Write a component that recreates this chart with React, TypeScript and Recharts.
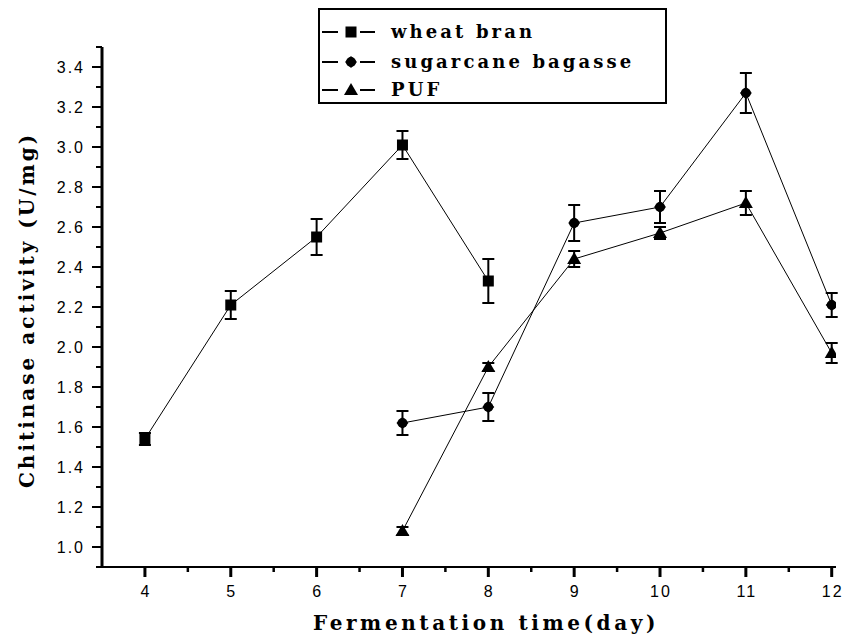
import { LineChart, Line, XAxis, YAxis, ErrorBar, Legend } from 'recharts';

// values
const days = [4, 5, 6, 7, 8, 9, 10, 11, 12];
const wheatBran = [1.54, 2.21, 2.55, 3.01, 2.33, null, null, null, null];
const wheatBranErr = [0.03, 0.07, 0.09, 0.07, 0.11, null, null, null, null];
const sugarcane = [null, null, null, 1.62, 1.7, 2.62, 2.7, 3.27, 2.21];
const sugarcaneErr = [null, null, null, 0.06, 0.07, 0.09, 0.08, 0.1, 0.06];
const puf = [null, null, null, 1.08, 1.9, 2.44, 2.57, 2.72, 1.97];
const pufErr = [null, null, null, 0.02, 0.02, 0.04, 0.03, 0.06, 0.05];

const xTicks = [4, 4.5, 5, 5.5, 6, 6.5, 7, 7.5, 8, 8.5, 9, 9.5, 10, 10.5, 11, 11.5, 12];
const yTicks = [
    0.9, 1.0, 1.1, 1.2, 1.3, 1.4, 1.5, 1.6, 1.7, 1.8, 1.9, 2.0, 2.1, 2.2,
    2.3, 2.4, 2.5, 2.6, 2.7, 2.8, 2.9, 3.0, 3.1, 3.2, 3.3, 3.4, 3.5
];

const data = days.map((day, i) => ({
    day,
    wheatBran: wheatBran[i],
    wheatBranErr: wheatBranErr[i] ?? undefined,
    sugarcane: sugarcane[i],
    sugarcaneErr: sugarcaneErr[i] ?? undefined,
    puf: puf[i],
    pufErr: pufErr[i] ?? undefined
}));

const TITLE_FONT = '"DejaVu Serif", serif';
const TICK_FONT = '"Liberation Sans", Arial, sans-serif';

const Square = ({ cx, cy }: any) => (
    <rect x={cx - 5.5} y={cy - 5.5} width={11} height={11} fill="#000" />
);
const Diamond = ({ cx, cy }: any) => (
    <g>
        <circle cx={cx} cy={cy} r={5} fill="#000" />
        <path d={`M${cx},${cy - 6}L${cx + 6},${cy}L${cx},${cy + 6}L${cx - 6},${cy}Z`} fill="#000" />
    </g>
);
const Triangle = ({ cx, cy }: any) => (
    <path d={`M${cx},${cy - 7}L${cx + 7},${cy + 5}L${cx - 7},${cy + 5}Z`} fill="#000" />
);

const makeDot = (Shape: any) => (props: any) => {
    const { cx, cy, value, index } = props;
    if (value == null || cy == null || cx == null) return <g key={index} />;
    return <Shape key={index} cx={cx} cy={cy} />;
};

const XTick = ({ x, y, payload }: any) => {
    const major = Number.isInteger(payload.value);
    return (
        <g>
            <line x1={x} x2={x} y1={y} y2={y + (major ? 10 : 5)} stroke="#000" strokeWidth={major ? 3 : 2.5} />
            {major && (
                <text x={x + 1} y={y + 30} textAnchor="middle" fontFamily={TICK_FONT} fontSize={16} letterSpacing={2} fill="#000">
                    {payload.value}
                </text>
            )}
        </g>
    );
};

const YTick = ({ x, y, payload }: any) => {
    const major = Math.round(payload.value * 10) % 2 === 0;
    return (
        <g>
            <line x1={x} x2={x - (major ? 10 : 6)} y1={y} y2={y} stroke="#000" strokeWidth={2} />
            {major && (
                <text x={x - 17} y={y + 6} textAnchor="end" fontFamily={TICK_FONT} fontSize={16} letterSpacing={2} fill="#000">
                    {payload.value.toFixed(1)}
                </text>
            )}
        </g>
    );
};

const legendRows = [
    { key: 'wheatBran', name: 'wheat bran', Shape: Square },
    { key: 'sugarcane', name: 'sugarcane bagasse', Shape: Diamond },
    { key: 'puf', name: 'PUF', Shape: Triangle }
];

const renderLegend = () => (
    <div style={{ width: 345, height: 92, border: '2px solid #000', background: '#fff' }}>
        <svg width={345} height={92}>
            {legendRows.map((r, i) => {
                const cy = [22, 52, 80][i];
                return (
                    <g key={r.key}>
                        <line x1={2} x2={18} y1={cy} y2={cy} stroke="#000" strokeWidth={2} />
                        <r.Shape cx={31} cy={cy} />
                        <line x1={40} x2={55} y1={cy} y2={cy} stroke="#000" strokeWidth={2} />
                        <text x={71} y={cy + 6} fontFamily={TITLE_FONT} fontWeight="bold" fontSize={18} letterSpacing={3.1} fill="#000">
                            {r.name}
                        </text>
                    </g>
                );
            })}
        </svg>
    </div>
);

export default function App() {
    return (
        <div style={{ width: 851, height: 637, background: '#fff' }}>
            <style>{'body{margin:0}'}</style>
            <LineChart
                width={851}
                height={637}
                data={data}
                margin={{ top: 47, right: 15, left: 42, bottom: 0 }}
            >
                <XAxis
                    type="number"
                    dataKey="day"
                    domain={[3.5, 12.05]}
                    ticks={xTicks}
                    interval={0}
                    allowDataOverflow
                    height={70}
                    tickSize={0}
                    tickMargin={0}
                    tickLine={false}
                    tick={<XTick />}
                    axisLine={{ stroke: '#000', strokeWidth: 2 }}
                    label={{
                        content: ({ viewBox }: any) => (
                            <text
                                x={viewBox.x + viewBox.width / 2 + 17}
                                y={630}
                                textAnchor="middle"
                                fontFamily={TITLE_FONT}
                                fontWeight="bold"
                                fontSize={20}
                                letterSpacing={3.6}
                                fill="#000"
                            >
                                Fermentation time(day)
                            </text>
                        )
                    }}
                />
                <YAxis
                    type="number"
                    domain={[0.9, 3.5]}
                    ticks={yTicks}
                    interval={0}
                    allowDataOverflow
                    width={60}
                    tickSize={0}
                    tickMargin={0}
                    tickLine={false}
                    tick={<YTick />}
                    axisLine={{ stroke: '#000', strokeWidth: 3 }}
                    label={{
                        content: ({ viewBox }: any) => {
                            const cy = viewBox.y + viewBox.height / 2 + 3;
                            return (
                                <text
                                    x={34}
                                    y={cy}
                                    transform={`rotate(-90 34 ${cy})`}
                                    textAnchor="middle"
                                    fontFamily={TITLE_FONT}
                                    fontWeight="bold"
                                    fontSize={20}
                                    letterSpacing={3}
                                    fill="#000"
                                >
                                    Chitinase activity (U/mg)
                                </text>
                            );
                        }
                    }}
                />
                <Legend
                    layout="vertical"
                    align="center"
                    verticalAlign="middle"
                    content={renderLegend}
                    wrapperStyle={{ left: 318, top: 8, width: 349, height: 96 }}
                />
                <Line
                    type="linear"
                    dataKey="wheatBran"
                    name="wheat bran"
                    stroke="#000"
                    strokeWidth={1}
                    dot={makeDot(Square)}
                    activeDot={false}
                    isAnimationActive={false}
                >
                    <ErrorBar dataKey="wheatBranErr" width={6} stroke="#000" strokeWidth={2} direction="y" />
                </Line>
                <Line
                    type="linear"
                    dataKey="sugarcane"
                    name="sugarcane bagasse"
                    stroke="#000"
                    strokeWidth={1}
                    dot={makeDot(Diamond)}
                    activeDot={false}
                    isAnimationActive={false}
                >
                    <ErrorBar dataKey="sugarcaneErr" width={6} stroke="#000" strokeWidth={2} direction="y" />
                </Line>
                <Line
                    type="linear"
                    dataKey="puf"
                    name="PUF"
                    stroke="#000"
                    strokeWidth={1}
                    dot={makeDot(Triangle)}
                    activeDot={false}
                    isAnimationActive={false}
                >
                    <ErrorBar dataKey="pufErr" width={6} stroke="#000" strokeWidth={2} direction="y" />
                </Line>
            </LineChart>
        </div>
    );
}
